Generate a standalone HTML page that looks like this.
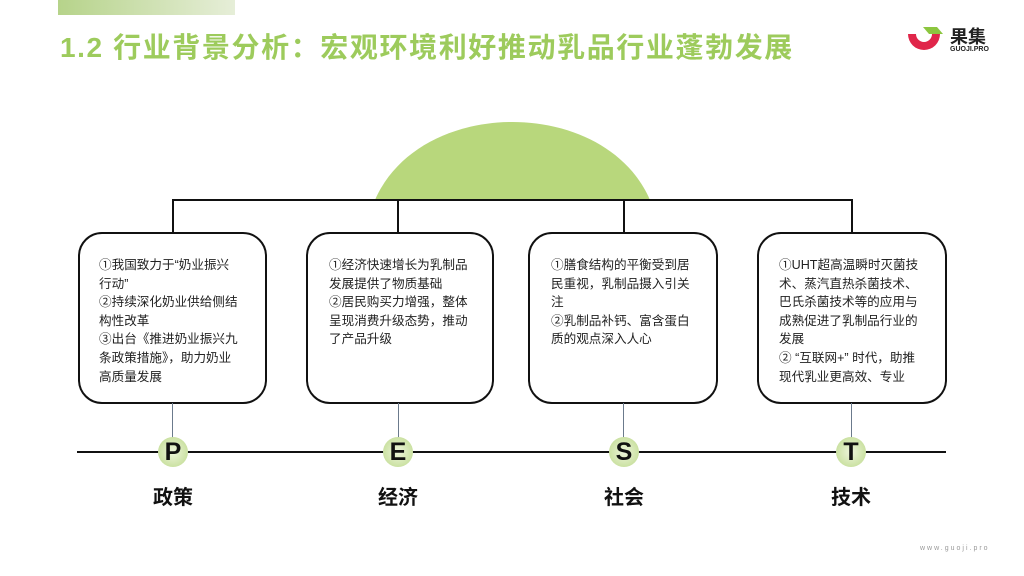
<!DOCTYPE html><html><head><meta charset="utf-8"><style>
body{margin:0;width:1024px;height:576px;position:relative;background:#fff;overflow:hidden;font-family:"Liberation Sans","Noto Sans CJK SC",sans-serif}
.a{position:absolute}
.box{position:absolute;top:232px;height:172px;border:2px solid #111;border-radius:24px;background:#fff;box-sizing:border-box}
.t{position:absolute;font-size:12.6px;line-height:18.6px;color:#222;top:22px;white-space:nowrap}
.c{position:absolute;top:437px;width:30px;height:30px;border-radius:50%;background:radial-gradient(circle,#eef5dc 0%,#bcd98a 100%);font-weight:bold;font-size:25px;text-align:center;line-height:30px;color:#111}
.l{position:absolute;top:481px;font-size:20px;font-weight:bold;color:#111;width:80px;text-align:center}
.v{position:absolute;width:1.5px;background:#111}
.g{position:absolute;width:1px;background:#6b7a8c;top:403px;height:36px}
</style></head><body>
<div class="a" style="left:58px;top:0;width:177px;height:15px;background:linear-gradient(90deg,#b6d38a,#e6eed8)"></div>
<div class="a" style="left:60px;top:26px;font-size:28px;color:#9dcb5c;font-weight:bold;letter-spacing:1.6px;white-space:nowrap">1.2 行业背景分析：宏观环境利好推动乳品行业蓬勃发展</div>
<svg class="a" style="left:905px;top:24px" width="42" height="34"><path d="M3 10 A16 16 0 0 0 35 10 L27 10 A8 8 0 0 1 11 10 Z" fill="#e0264a"/><path d="M18 3 L32 3 L38 10 L24 10 Z" fill="#8cc63f"/></svg>
<div class="a" style="left:950px;top:23px;font-size:18px;font-weight:bold;color:#222">果集</div>
<div class="a" style="left:950px;top:46px;font-size:7px;font-weight:bold;color:#222">GUOJI.PRO</div>
<svg class="a" style="left:0;top:0" width="1024" height="210"><path d="M375 200 C 420 96, 605 96, 650 200 Z" fill="#b8d77c"/></svg>
<div class="a" style="left:172px;top:199px;width:680px;height:1.5px;background:#111"></div>
<div class="v" style="left:172px;top:199px;height:34px"></div>
<div class="v" style="left:397px;top:199px;height:34px"></div>
<div class="v" style="left:623px;top:199px;height:34px"></div>
<div class="v" style="left:851px;top:199px;height:34px"></div>
<div class="box" style="left:78px;width:189px"><div class="t" style="left:19px">①我国致力于“奶业振兴<br>行动”<br>②持续深化奶业供给侧结<br>构性改革<br>③出台《推进奶业振兴九<br>条政策措施》，助力奶业<br>高质量发展</div></div>
<div class="box" style="left:306px;width:188px"><div class="t" style="left:21px">①经济快速增长为乳制品<br>发展提供了物质基础<br>②居民购买力增强，整体<br>呈现消费升级态势，推动<br>了产品升级</div></div>
<div class="box" style="left:528px;width:190px"><div class="t" style="left:21px">①膳食结构的平衡受到居<br>民重视，乳制品摄入引关<br>注<br>②乳制品补钙、富含蛋白<br>质的观点深入人心</div></div>
<div class="box" style="left:757px;width:190px"><div class="t" style="left:20px">①UHT超高温瞬时灭菌技<br>术、蒸汽直热杀菌技术、<br>巴氏杀菌技术等的应用与<br>成熟促进了乳制品行业的<br>发展<br>② “互联网+” 时代，助推<br>现代乳业更高效、专业</div></div>
<div class="g" style="left:172px"></div><div class="g" style="left:398px"></div><div class="g" style="left:623px"></div><div class="g" style="left:851px"></div>
<div class="a" style="left:77px;top:451px;width:869px;height:2px;background:#111"></div>
<div class="c" style="left:158px">P</div><div class="c" style="left:383px">E</div><div class="c" style="left:609px">S</div><div class="c" style="left:836px">T</div>
<div class="l" style="left:133px">政策</div><div class="l" style="left:358px">经济</div><div class="l" style="left:584px">社会</div><div class="l" style="left:811px">技术</div>
<div class="a" style="left:920px;top:545px;font-size:7px;color:#999;letter-spacing:2px">www.guoji.pro</div>
</body></html>
